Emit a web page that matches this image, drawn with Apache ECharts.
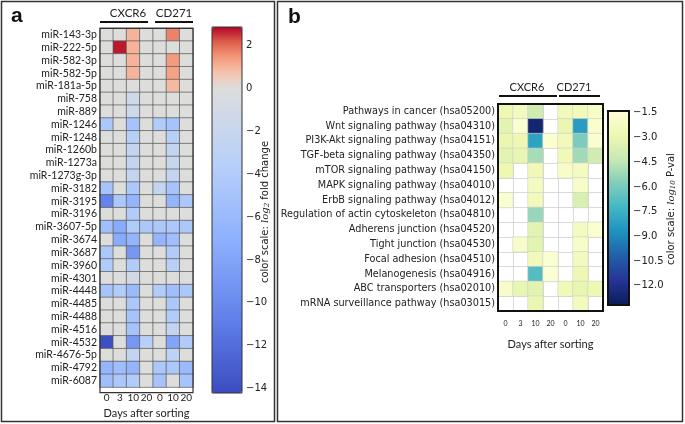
<!DOCTYPE html>
<html>
<head>
<meta charset="utf-8">
<script src="https://cdn.jsdelivr.net/npm/echarts@6/dist/echarts.min.js"></script>
<style>
  html, body { margin: 0; padding: 0; background: #fff; }
  #chart { width: 685px; height: 424px; }
</style>
</head>
<body>
<div id="chart"></div>
<script>
// days after sorting: CXCR6 (0, 3, 10, 20) then CD271 (0, 10, 20)
const dayLabels = ['0', '3', '10', '20', '0', '10', '20']

const mirnas = [
  'miR-143-3p', 'miR-222-5p', 'miR-582-3p', 'miR-582-5p', 'miR-181a-5p',
  'miR-758', 'miR-889', 'miR-1246', 'miR-1248', 'miR-1260b', 'miR-1273a',
  'miR-1273g-3p', 'miR-3182', 'miR-3195', 'miR-3196', 'miR-3607-5p',
  'miR-3674', 'miR-3687', 'miR-3960', 'miR-4301', 'miR-4448', 'miR-4485',
  'miR-4488', 'miR-4516', 'miR-4532', 'miR-4676-5p', 'miR-4792', 'miR-6087'
]

// log2 fold change, one row per miRNA
const foldChange = [
  [0, 0, 1.0, 0, 0, 1.7, 0],
  [0, 2.7, 1.0, 0, 0, 0, 0],
  [0, 0, 1.0, 0, 0, 1.4, 0],
  [0, 0, 1.0, 0, 0, 1.3, 0],
  [0, 0, 0, 0, 0, 0.9, 0],
  [0, 0, -1.5, 0, 0, 0, 0],
  [0, 0, -1.5, 0, 0, 0, 0],
  [-4.5, 0, -5, 0, -4, -5, 0],
  [0, 0, -3.5, 0, 0, -3.5, 0],
  [0, 0, -2.5, 0, 0, -2.5, 0],
  [0, 0, -2.5, 0, 0, -2, 0],
  [0, 0, -2.5, 0, 0, -2.5, 0],
  [-5, 0, -4.5, 0, -2.5, -5, 0],
  [-10.5, -4.5, -6.5, 0, 0, -6.5, -4.5],
  [0, 0, -4, 0, 0, 0, 0],
  [-5.5, -7.5, -4, -4.5, -4.5, -4.5, -4.5],
  [0, -7.5, -6.5, 0, -6.5, -5.5, 0],
  [-4.5, 0, -9, 0, 0, -4, 0],
  [-4, 0, -4, 0, 0, -3.5, 0],
  [0, 0, -1, 0, 0, 0, 0],
  [-5, -4, -6, 0, -4, -5.5, -4.5],
  [0, 0, -4.5, 0, 0, -4.5, 0],
  [0, 0, -5, 0, 0, -4, 0],
  [0, 0, -5, 0, 0, -2.5, 0],
  [-14, 0, -9, -3.5, 0, -8, -4],
  [0, 0, -2.5, 0, 0, -3, 0],
  [-6.5, -5.5, -6.5, 0, -4.5, -4.5, -6],
  [-5.5, -4.5, -4, 0, -5, 0, -5]
]

const pathways = [
  'Pathways in cancer (hsa05200)', 'Wnt signaling pathway (hsa04310)',
  'PI3K-Akt signaling pathway (hsa04151)', 'TGF-beta signaling pathway (hsa04350)',
  'mTOR signaling pathway (hsa04150)', 'MAPK signaling pathway (hsa04010)',
  'ErbB signaling pathway (hsa04012)', 'Regulation of actin cytoskeleton (hsa04810)',
  'Adherens junction (hsa04520)', 'Tight junction (hsa04530)',
  'Focal adhesion (hsa04510)', 'Melanogenesis (hsa04916)',
  'ABC transporters (hsa02010)', 'mRNA surveillance pathway (hsa03015)'
]

// log10 P-value, null = not significant (white)
const pathwayPval = [
  [-2.8, -2.4, -4.0, null, -2.5, -2.5, -2.0],
  [-3.3, -1.7, -12.6, null, -3.0, -8.3, -1.8],
  [-3.0, -2.8, -8.0, -1.7, -2.5, -5.9, -1.8],
  [-3.3, -3.1, -5.0, null, -2.6, -5.1, -4.0],
  [-2.8, null, -2.6, null, -2.0, -2.3, null],
  [null, null, -2.3, null, null, -2.0, null],
  [-1.7, null, -2.5, null, null, -3.6, null],
  [null, null, -5.3, null, null, null, null],
  [null, null, -3.3, null, null, -2.3, -1.7],
  [null, -2.0, -3.3, null, null, -2.0, null],
  [null, null, -2.5, -1.7, null, -2.4, null],
  [null, null, -6.8, -1.7, null, -2.8, null],
  [-2.0, -3.1, -3.3, null, -2.6, -3.1, -2.8],
  [null, null, -3.0, null, null, -2.4, null]
]

const fcTicks = [-14, -12, -10, -8, -6, -4, -2, 0, 2]
const pvalTicks = [-12, -10.5, -9, -7.5, -6, -4.5, -3, -1.5]

const fcMin = -14.2
const fcMax = 2.85
const pMin = -13.17
const pMax = -1.39

// coolwarm, split at 0 (two slope)
const cwStops = [
  [59, 76, 192], [98, 130, 234], [141, 176, 254], [184, 208, 249], [221, 221, 221],
  [245, 196, 173], [244, 154, 123], [222, 96, 77], [180, 4, 38]
]
const coolwarm = (t) => {
  const p = Math.max(0, Math.min(1, t)) * 8
  const i = Math.min(7, Math.floor(p))
  const f = p - i
  const a = cwStops[i]
  const b = cwStops[i + 1]
  const c = a.map((x, k) => Math.round(x + (b[k] - x) * f))
  return 'rgb(' + c.join(',') + ')'
}
const fcColors = []
for (let k = 0; k < 120; k++) {
  const v = fcMin + (fcMax - fcMin) * k / 119
  const t = v < 0 ? 0.5 * (v - fcMin) / -fcMin : 0.5 + 0.5 * v / fcMax
  fcColors.push(coolwarm(t))
}
const ylgnbu = ['#081d58', '#253494', '#225ea8', '#1d91c0', '#41b6c4', '#7fcdbb', '#c7e9b4', '#edf8b1', '#ffffd9']

const heatA = []
foldChange.forEach((row, y) => row.forEach((v, x) => heatA.push([x, y, v])))
const heatB = []
pathwayPval.forEach((row, y) => row.forEach((v, x) => { if (v !== null) heatB.push([x, y, v]) }))

const minus = (s) => String(s).replace('-', '\u2212')
const txt = '#222'

const chart = echarts.init(document.getElementById('chart'))

const option = {
  animation: false,
  backgroundColor: '#fff',
  grid: [
    { left: 100, top: 28.3, width: 93, height: 364.4 },
    { left: 212, top: 27, width: 30, height: 366 },
    { left: 498, top: 104, width: 105, height: 207 },
    { left: 608, top: 111, width: 21, height: 194 }
  ],
  xAxis: [
    {
      type: 'category', gridIndex: 0, data: dayLabels,
      axisLine: { show: false }, axisTick: { show: false },
      axisLabel: { interval: 0, fontFamily: 'Lato', fontSize: 10, color: txt, margin: 6 },
      name: 'Days after sorting', nameLocation: 'middle', nameGap: 14,
      nameTextStyle: { fontFamily: 'Lato', fontSize: 11, color: txt }
    },
    { type: 'category', gridIndex: 1, data: ['c'], show: false },
    {
      type: 'category', gridIndex: 2, data: dayLabels,
      axisLine: { show: false }, axisTick: { show: false },
      splitLine: { show: true, interval: 0, lineStyle: { color: '#d0d0d0', width: 0.8 } },
      axisLabel: { interval: 0, fontFamily: 'Lato', fontSize: 7, color: txt, margin: 9 },
      name: 'Days after sorting', nameLocation: 'middle', nameGap: 28,
      nameTextStyle: { fontFamily: 'Lato', fontSize: 11, color: txt }
    },
    { type: 'category', gridIndex: 3, data: ['c'], show: false }
  ],
  yAxis: [
    {
      type: 'category', gridIndex: 0, data: mirnas, inverse: true,
      axisLine: { show: false }, axisTick: { show: false },
      axisLabel: { interval: 0, fontFamily: 'Lato', fontSize: 10.5, color: txt, margin: 3 }
    },
    {
      type: 'value', gridIndex: 1, min: fcMin, max: fcMax, position: 'right',
      axisLine: { show: false }, splitLine: { show: false },
      axisTick: { show: true, inside: true, length: 4, customValues: fcTicks, lineStyle: { color: '#222' } },
      axisLabel: {
        customValues: fcTicks, margin: 4, fontFamily: 'DejaVu Sans', fontSize: 10, color: txt,
        formatter: (v) => minus(v)
      }
    },
    {
      type: 'category', gridIndex: 2, data: pathways, inverse: true,
      axisLine: { show: false }, axisTick: { show: false },
      splitLine: { show: true, interval: 0, lineStyle: { color: '#d0d0d0', width: 0.8 } },
      axisLabel: { interval: 0, fontFamily: 'DejaVu Sans', fontSize: 9.7, color: txt, margin: 3 }
    },
    {
      type: 'value', gridIndex: 3, min: pMin, max: pMax, position: 'right',
      axisLine: { show: false }, splitLine: { show: false },
      axisTick: { show: true, inside: true, length: 4, customValues: pvalTicks, lineStyle: { color: '#222' } },
      axisLabel: {
        customValues: pvalTicks, margin: 4, fontFamily: 'DejaVu Sans', fontSize: 10, color: txt,
        formatter: (v) => minus(v.toFixed(1))
      }
    }
  ],
  visualMap: [
    {
      type: 'continuous', seriesIndex: 0, min: fcMin, max: fcMax,
      inRange: { color: fcColors }, calculable: false, hoverLink: false,
      left: 212, top: 27, itemWidth: 30, itemHeight: 366, padding: 0,
      text: null, showLabel: false
    },
    {
      type: 'continuous', seriesIndex: 1, min: pMin, max: pMax,
      inRange: { color: ylgnbu }, calculable: false, hoverLink: false,
      left: 608, top: 111, itemWidth: 21, itemHeight: 194, padding: 0,
      text: null, showLabel: false
    }
  ],
  series: [
    {
      type: 'heatmap', xAxisIndex: 0, yAxisIndex: 0, data: heatA,
      itemStyle: { borderColor: '#5a5a5a', borderWidth: 0.7 }
    },
    {
      type: 'heatmap', xAxisIndex: 2, yAxisIndex: 2, data: heatB,
      itemStyle: { borderColor: '#cfcfcf', borderWidth: 0.6 }
    }
  ],
  graphic: [
    // panel frames
    { type: 'rect', z: 100, shape: { x: 1.5, y: 1.5, width: 273, height: 420 }, style: { fill: 'none', stroke: '#333', lineWidth: 1.5 } },
    { type: 'rect', z: 100, shape: { x: 277.5, y: 1.5, width: 405, height: 420 }, style: { fill: 'none', stroke: '#333', lineWidth: 1.5 } },
    // heatmap and colorbar outlines
    { type: 'rect', z: 100, shape: { x: 100, y: 28.3, width: 93, height: 364.4 }, style: { fill: 'none', stroke: '#333', lineWidth: 1.2 } },
    { type: 'rect', z: 100, shape: { x: 212, y: 27, width: 30, height: 366 }, style: { fill: 'none', stroke: '#333', lineWidth: 1 } },
    { type: 'rect', z: 100, shape: { x: 498, y: 104, width: 105, height: 207 }, style: { fill: 'none', stroke: '#111', lineWidth: 2 } },
    { type: 'rect', z: 100, shape: { x: 608, y: 111, width: 21, height: 194 }, style: { fill: 'none', stroke: '#111', lineWidth: 2 } },
    // panel letters
    { type: 'text', z: 100, x: 11, y: 16, style: { text: 'a', font: 'bold 21px "Liberation Sans"', fill: '#111', verticalAlign: 'middle' } },
    { type: 'text', z: 100, x: 288, y: 17, style: { text: 'b', font: 'bold 21px "Liberation Sans"', fill: '#111', verticalAlign: 'middle' } },
    // group headers, panel a
    { type: 'text', z: 100, x: 128, y: 13, style: { text: 'CXCR6', font: '11.5px Lato', fill: txt, align: 'center', verticalAlign: 'middle' } },
    { type: 'text', z: 100, x: 174, y: 13, style: { text: 'CD271', font: '11.5px Lato', fill: txt, align: 'center', verticalAlign: 'middle' } },
    { type: 'line', z: 100, shape: { x1: 100, y1: 22, x2: 148, y2: 22 }, style: { stroke: '#111', lineWidth: 2 } },
    { type: 'line', z: 100, shape: { x1: 155, y1: 22, x2: 193, y2: 22 }, style: { stroke: '#111', lineWidth: 2 } },
    // group headers, panel b
    { type: 'text', z: 100, x: 527, y: 87, style: { text: 'CXCR6', font: '11px Lato', fill: txt, align: 'center', verticalAlign: 'middle' } },
    { type: 'text', z: 100, x: 574, y: 87, style: { text: 'CD271', font: '11px Lato', fill: txt, align: 'center', verticalAlign: 'middle' } },
    { type: 'line', z: 100, shape: { x1: 499, y1: 96, x2: 557, y2: 96 }, style: { stroke: '#111', lineWidth: 2 } },
    { type: 'line', z: 100, shape: { x1: 559, y1: 96, x2: 600, y2: 96 }, style: { stroke: '#111', lineWidth: 2 } },
    // colorbar titles
    {
      type: 'text', z: 100, x: 265, y: 212, rotation: Math.PI / 2,
      style: {
        text: '{n|color scale: }{i|log}{s|2}{n| fold change}',
        align: 'center', verticalAlign: 'middle', fill: txt,
        rich: {
          n: { fontFamily: 'DejaVu Sans', fontSize: 10, lineHeight: 12, fill: txt },
          i: { fontFamily: 'DejaVu Serif', fontStyle: 'italic', fontSize: 10, lineHeight: 12, fill: txt },
          s: { fontFamily: 'DejaVu Serif', fontStyle: 'italic', fontSize: 7, lineHeight: 12, verticalAlign: 'bottom', fill: txt }
        }
      }
    },
    {
      type: 'text', z: 100, x: 671, y: 209, rotation: Math.PI / 2,
      style: {
        text: '{n|color scale: }{i|log}{s|10}{n| P-val}',
        align: 'center', verticalAlign: 'middle', fill: txt,
        rich: {
          n: { fontFamily: 'DejaVu Sans', fontSize: 10, lineHeight: 12, fill: txt },
          i: { fontFamily: 'DejaVu Serif', fontStyle: 'italic', fontSize: 10, lineHeight: 12, fill: txt },
          s: { fontFamily: 'DejaVu Serif', fontStyle: 'italic', fontSize: 7, lineHeight: 12, verticalAlign: 'bottom', fill: txt }
        }
      }
    }
  ]
}

chart.setOption(option)
</script>
</body>
</html>
